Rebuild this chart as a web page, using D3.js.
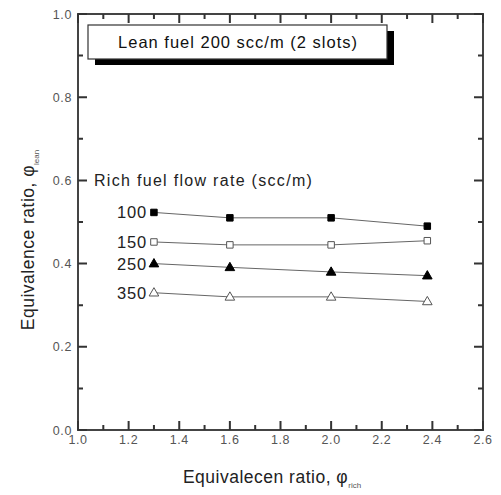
<!DOCTYPE html>
<html><head><meta charset="utf-8">
<script src="https://cdn.jsdelivr.net/npm/d3@7"></script>
<style>body{margin:0;background:#fff}svg{display:block;font-family:"Liberation Sans",Arial,sans-serif}</style>
</head><body><svg id="c" width="501" height="495"></svg>
<script>
const xVals = [1.3, 1.6, 2.0, 2.38];
const rates = ["100", "150", "250", "350"];
const s100 = [0.523, 0.510, 0.510, 0.490];
const s150 = [0.452, 0.445, 0.445, 0.455];
const s250 = [0.400, 0.391, 0.380, 0.371];
const s350 = [0.330, 0.320, 0.320, 0.309];
const seriesVals = [s100, s150, s250, s350];
const markers = ["squareFilled", "squareOpen", "triFilled", "triOpen"];
const xTicks = [1.0, 1.2, 1.4, 1.6, 1.8, 2.0, 2.2, 2.4, 2.6];
const yTicks = [0.0, 0.2, 0.4, 0.6, 0.8, 1.0];
const xMinor = [1.1, 1.3, 1.5, 1.7, 1.9, 2.1, 2.3, 2.5];
const yMinor = [0.1, 0.3, 0.5, 0.7, 0.9];
const boxText = "Lean fuel 200 scc/m (2 slots)";
const legendTitle = "Rich fuel flow rate (scc/m)";

const svg = d3.select("#c");
const L = 78, R = 483, T = 14, B = 430;
const x = d3.scaleLinear().domain([1.0, 2.6]).range([L, R]);
const y = d3.scaleLinear().domain([0, 1.0]).range([B, T]);
const fmt = d3.format(".1f");

// frame
svg.append("rect").attr("x", L).attr("y", T).attr("width", R - L).attr("height", B - T)
  .attr("fill", "none").attr("stroke", "#444").attr("stroke-width", 2);

// tick marks (inward) on all four sides, as one path
function tickPath(){
  let p = "";
  xTicks.forEach(v => { const X = x(v); p += `M${X},${B}V${B-9}M${X},${T}V${T+9}`; });
  xMinor.forEach(v => { const X = x(v); p += `M${X},${B}V${B-5}M${X},${T}V${T+5}`; });
  yTicks.forEach(v => { const Y = y(v); p += `M${L},${Y}H${L+9}M${R},${Y}H${R-9}`; });
  yMinor.forEach(v => { const Y = y(v); p += `M${L},${Y}H${L+5}M${R},${Y}H${R-5}`; });
  return p;
}
svg.append("path").attr("d", tickPath()).attr("fill", "none").attr("stroke", "#333").attr("stroke-width", 2);

// tick labels
svg.append("g").selectAll("text").data(xTicks).join("text")
  .attr("x", d => x(d)).attr("y", B + 14).attr("text-anchor", "middle")
  .attr("font-size", 12.5).attr("letter-spacing", 0.6).attr("fill", "#555").text(fmt);
svg.append("g").selectAll("text").data(yTicks).join("text")
  .attr("x", L - 6).attr("y", d => y(d) + 4.5).attr("text-anchor", "end")
  .attr("font-size", 12.5).attr("letter-spacing", 0.6).attr("fill", "#555").text(fmt);

// axis titles
const xtt = svg.append("text").attr("x", 272).attr("y", 483).attr("text-anchor", "middle")
  .attr("font-size", 17.5).attr("letter-spacing", 0.5).attr("fill", "#222");
xtt.append("tspan").text("Equivalecen ratio, \u03C6");
xtt.append("tspan").attr("font-size", 8).attr("letter-spacing", 0).attr("dy", 5).attr("fill", "#555").text("rich");
const ytt = svg.append("text").attr("transform", "translate(34,240) rotate(-90)").attr("text-anchor", "middle")
  .attr("font-size", 17.5).attr("letter-spacing", 0.5).attr("fill", "#222");
ytt.append("tspan").text("Equivalence ratio, \u03C6");
ytt.append("tspan").attr("font-size", 8).attr("letter-spacing", 0).attr("dy", 5).attr("fill", "#555").text("lean");

// legend box with shadow
svg.append("rect").attr("x", 95).attr("y", 31).attr("width", 299).attr("height", 34).attr("fill", "#000");
svg.append("rect").attr("x", 88).attr("y", 25).attr("width", 299).attr("height", 34)
  .attr("fill", "#fff").attr("stroke", "#333").attr("stroke-width", 1.2);
svg.append("text").attr("x", 238).attr("y", 48).attr("text-anchor", "middle")
  .attr("font-size", 16.5).attr("letter-spacing", 1).attr("fill", "#111").text(boxText);

svg.append("text").attr("x", 94).attr("y", 186).attr("font-size", 16).attr("letter-spacing", 1.3)
  .attr("fill", "#222").text(legendTitle);

// series
const line = d3.line().x((d, i) => x(xVals[i])).y(d => y(d));
seriesVals.forEach((vals, k) => {
  svg.append("path").datum(vals).attr("d", line).attr("fill", "none").attr("stroke", "#666").attr("stroke-width", 1);
  const m = markers[k];
  const filled = m.endsWith("Filled");
  const sym = m.startsWith("square") ? d3.symbolSquare : d3.symbolTriangle;
  const size = m.startsWith("square") ? 42 : 40;
  svg.selectAll(null).data(vals).join("path")
    .attr("transform", (d, i) => `translate(${x(xVals[i])},${y(d) + (m.startsWith("tri") ? 0.5 : 0)})`)
    .attr("d", d3.symbol().type(sym).size(size))
    .attr("fill", filled ? "#000" : "#fff").attr("stroke", filled ? "#000" : "#555").attr("stroke-width", 1);
  svg.append("text").attr("x", 147).attr("y", y(vals[0]) + 6).attr("text-anchor", "end")
    .attr("font-size", 16.5).attr("letter-spacing", 0.8).attr("fill", "#222").text(rates[k]);
});
</script></body></html>
